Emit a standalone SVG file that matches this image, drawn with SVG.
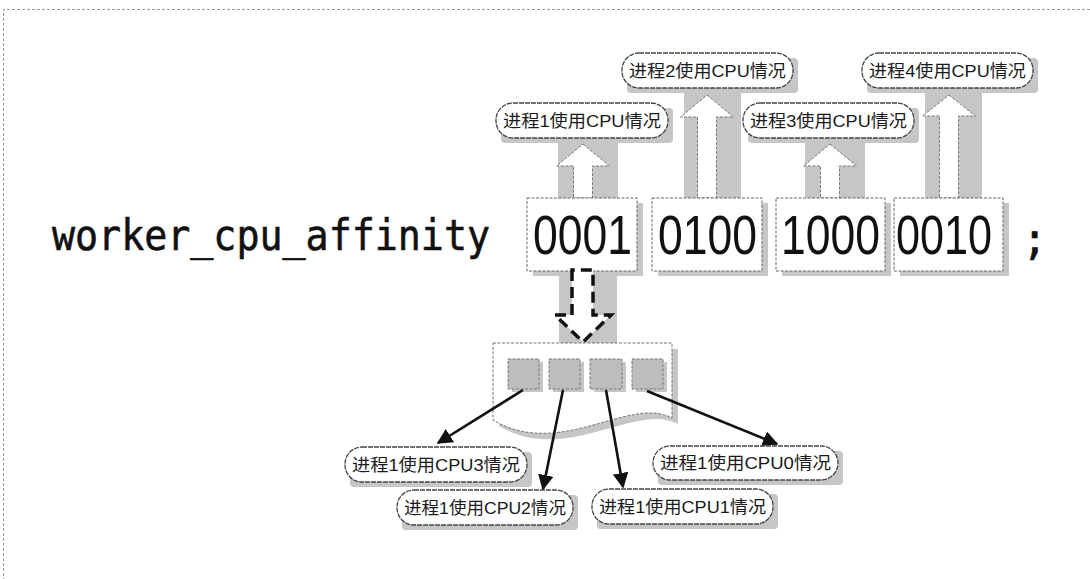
<svg xmlns="http://www.w3.org/2000/svg" width="1090" height="579" viewBox="0 0 1090 579">
<style>
.frame{fill:none;stroke:#999;stroke-width:1;stroke-dasharray:3,2}
.shadow{fill:#c6c6c6}
.box{fill:#fff;stroke:#666;stroke-width:1;stroke-dasharray:3,1.5}
.uparrow{fill:#fff;stroke:#777;stroke-width:1;stroke-dasharray:3,1.5}
.pill{fill:#fff;stroke:#444;stroke-width:1.3;stroke-dasharray:5,1}
.lbl{font-family:"Liberation Sans","Noto Sans CJK SC",sans-serif;font-size:17px;fill:#1a1a1a}
.code{font-family:"DejaVu Sans Mono",monospace;font-size:42px;fill:#111;stroke:#111;stroke-width:0.6}
.bits{font-family:"Liberation Sans",sans-serif;font-size:56px;fill:#111}
.cell{fill:#bdbdbd;stroke:#777;stroke-width:1;stroke-dasharray:3,1.5}
.conn{stroke:#111;stroke-width:2.6;fill:none}
</style>
<defs>
<marker id="ah" viewBox="0 0 10 10" refX="9" refY="5" markerWidth="6" markerHeight="6" markerUnits="strokeWidth" orient="auto">
<path d="M0,0 L10,5 L0,10 z" fill="#111"/>
</marker>
</defs>
<rect width="1090" height="579" fill="#fff"/>
<path class="frame" d="M1090,9.5 H3.5 V579"/>

<text class="code" x="52" y="250" textLength="438" lengthAdjust="spacingAndGlyphs">worker_cpu_affinity</text>
<text class="code" x="1022" y="254">;</text>

<g id="arrow-up-1">
<rect class="shadow" x="558" y="136" width="60" height="64"/>
<path class="uparrow" d="M583,144 L609.5,166 L592.5,166 L592.5,198 L573.5,198 L573.5,166 L556.5,166 Z"/>
</g>
<g id="arrow-up-2">
<rect class="shadow" x="684" y="86" width="57" height="114"/>
<path class="uparrow" d="M707,95 L733.5,117 L716.5,117 L716.5,198 L697.5,198 L697.5,117 L680.5,117 Z"/>
</g>
<g id="arrow-up-3">
<rect class="shadow" x="805" y="136" width="60" height="64"/>
<path class="uparrow" d="M830,144 L856.5,166 L839.5,166 L839.5,198 L820.5,198 L820.5,166 L803.5,166 Z"/>
</g>
<g id="arrow-up-4">
<rect class="shadow" x="925" y="86" width="57" height="114"/>
<path class="uparrow" d="M949,95 L975.5,116 L958.5,116 L958.5,198 L939.5,198 L939.5,116 L922.5,116 Z"/>
</g>

<g id="label-p1">
<rect class="shadow" x="501" y="108" width="172" height="35" rx="4"/>
<rect class="pill" x="496" y="103" width="172" height="35" rx="17"/>
<text class="lbl" x="503" y="127" textLength="158" lengthAdjust="spacingAndGlyphs">进程1使用CPU情况</text>
</g>
<g id="label-p2">
<rect class="shadow" x="627" y="58" width="171" height="35" rx="4"/>
<rect class="pill" x="622" y="53" width="171" height="35" rx="17"/>
<text class="lbl" x="629" y="77" textLength="157" lengthAdjust="spacingAndGlyphs">进程2使用CPU情况</text>
</g>
<g id="label-p3">
<rect class="shadow" x="748" y="108" width="171" height="35" rx="4"/>
<rect class="pill" x="743" y="103" width="171" height="35" rx="17"/>
<text class="lbl" x="750" y="127" textLength="157" lengthAdjust="spacingAndGlyphs">进程3使用CPU情况</text>
</g>
<g id="label-p4">
<rect class="shadow" x="867" y="58" width="171" height="35" rx="4"/>
<rect class="pill" x="862" y="53" width="171" height="35" rx="17"/>
<text class="lbl" x="869" y="77" textLength="157" lengthAdjust="spacingAndGlyphs">进程4使用CPU情况</text>
</g>

<g id="box-0001">
<rect class="shadow" x="533" y="203" width="110" height="73"/>
<rect class="box" x="527" y="198" width="110" height="73"/>
<text class="bits" x="533" y="254" textLength="99" lengthAdjust="spacingAndGlyphs">0001</text>
</g>
<g id="box-0100">
<rect class="shadow" x="658" y="203" width="110" height="73"/>
<rect class="box" x="652" y="198" width="110" height="73"/>
<text class="bits" x="658" y="254" textLength="99" lengthAdjust="spacingAndGlyphs">0100</text>
</g>
<g id="box-1000">
<rect class="shadow" x="782" y="203" width="109" height="73"/>
<rect class="box" x="776" y="198" width="109" height="73"/>
<text class="bits" x="781" y="254" textLength="99" lengthAdjust="spacingAndGlyphs">1000</text>
</g>
<g id="box-0010">
<rect class="shadow" x="900" y="203" width="109" height="73"/>
<rect class="box" x="894" y="198" width="109" height="73"/>
<text class="bits" x="896" y="254" textLength="96" lengthAdjust="spacingAndGlyphs">0010</text>
</g>

<g id="arrow-down">
<rect class="shadow" x="559" y="274" width="58" height="75"/>
<path d="M572,270 L572,315 L555,315 L583,342 L611,315 L593,315 L593,270 Z" fill="#fff" stroke="#111" stroke-width="3.5" stroke-dasharray="11,6"/>
</g>

<g id="memory">
<path class="shadow" d="M499,349 H678 V424 C636,401 566,466 499,426 Z"/>
<path d="M493,343 H672 V418 C630,395 560,460 493,420 Z" fill="#fff" stroke="#777" stroke-width="1" stroke-dasharray="3,1.5"/>
<g id="cpu3"><rect class="shadow" x="512" y="362" width="31" height="30"/><rect class="cell" x="508" y="359" width="31" height="30"/></g>
<g id="cpu2"><rect class="shadow" x="553" y="362" width="31" height="30"/><rect class="cell" x="549" y="359" width="31" height="30"/></g>
<g id="cpu1"><rect class="shadow" x="594" y="362" width="32" height="30"/><rect class="cell" x="590" y="359" width="32" height="30"/></g>
<g id="cpu0"><rect class="shadow" x="636" y="362" width="31" height="30"/><rect class="cell" x="632" y="359" width="31" height="30"/></g>
</g>

<g id="connectors">
<line class="conn" x1="523" y1="390" x2="438" y2="443" marker-end="url(#ah)"/>
<line class="conn" x1="563" y1="390" x2="543" y2="489" marker-end="url(#ah)"/>
<line class="conn" x1="606" y1="390" x2="623" y2="487" marker-end="url(#ah)"/>
<line class="conn" x1="647" y1="391" x2="777" y2="444" marker-end="url(#ah)"/>
</g>

<g id="label-cpu3">
<rect class="shadow" x="350" y="452" width="182" height="35" rx="4"/>
<rect class="pill" x="345" y="447" width="182" height="35" rx="17"/>
<text class="lbl" x="352" y="471" textLength="168" lengthAdjust="spacingAndGlyphs">进程1使用CPU3情况</text>
</g>
<g id="label-cpu2">
<rect class="shadow" x="402" y="495" width="176" height="35" rx="4"/>
<rect class="pill" x="397" y="490" width="176" height="35" rx="17"/>
<text class="lbl" x="404" y="514" textLength="162" lengthAdjust="spacingAndGlyphs">进程1使用CPU2情况</text>
</g>
<g id="label-cpu1">
<rect class="shadow" x="597" y="494" width="181" height="35" rx="4"/>
<rect class="pill" x="592" y="489" width="181" height="35" rx="17"/>
<text class="lbl" x="599" y="513" textLength="167" lengthAdjust="spacingAndGlyphs">进程1使用CPU1情况</text>
</g>
<g id="label-cpu0">
<rect class="shadow" x="658" y="451" width="185" height="34" rx="4"/>
<rect class="pill" x="653" y="446" width="185" height="34" rx="17"/>
<text class="lbl" x="660" y="469" textLength="171" lengthAdjust="spacingAndGlyphs">进程1使用CPU0情况</text>
</g>
</svg>
